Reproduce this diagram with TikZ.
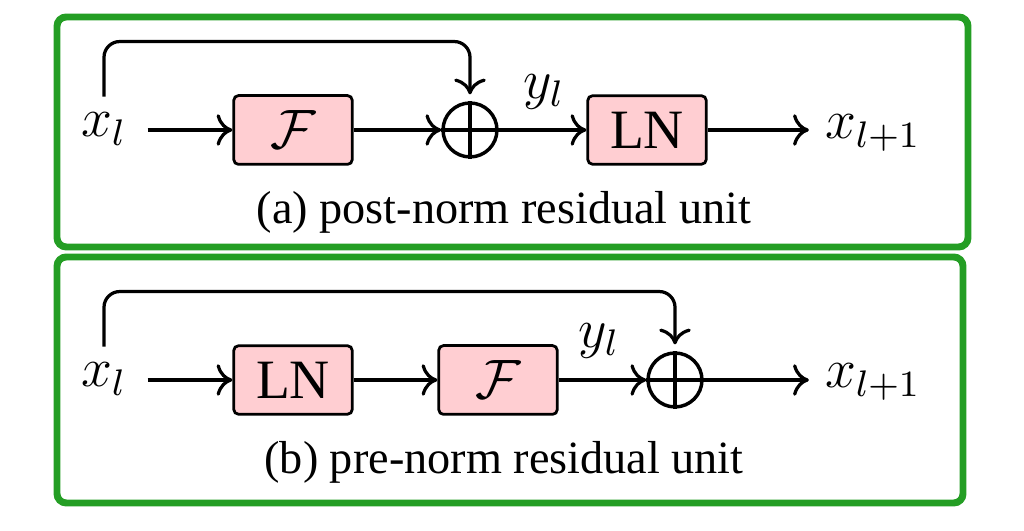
\documentclass[tikz,border=0pt]{standalone}
\usepackage{fontspec}
\setmainfont{Liberation Serif}
\usetikzlibrary{arrows.meta}

\definecolor{framegreen}{RGB}{36,158,36}
\definecolor{blockpink}{RGB}{255,206,210}

\begin{document}
\begin{tikzpicture}[x=0.76cm,y=0.76cm]
\tikzstyle{unitframe}=[draw=framegreen,line width=1.5pt,rounded corners=2pt]
\tikzstyle{layer}=[draw,fill=blockpink,rounded corners=1pt,line width=0.6pt,minimum width=0.9cm,minimum height=0.52cm,font=\large]
\tikzstyle{addop}=[draw,circle,line width=0.75pt,minimum size=0.41cm,inner sep=0pt]
\tikzstyle{flow}=[line width=0.7pt,-{To[length=1.2mm,width=2.4mm]}]
\tikzstyle{skip}=[flow,rounded corners=0.12cm,shorten >=1.5pt]

\useasboundingbox (0,0) rectangle (10.24,5.31);

%% ========== FRAMES ==========
\draw[unitframe] (0.57,5.14) rectangle (9.68,2.84);
\draw[unitframe] (0.57,2.74) rectangle (9.63,0.28);

%% ========== (a) POST-NORM ==========
\node[font=\large] (xa) at (1.04,4.02) {$x_l$};
\node[layer] (fa) at (2.93,4.01) {$\mathcal{F}$};
\node[addop] (ca) at (4.70,4.01) {};
\draw[line width=0.75pt] (ca.north) -- (ca.south) (ca.west) -- (ca.east);
\node[font=\large] (ya) at (5.44,4.39) {$y_l$};
\node[layer] (la) at (6.47,4.01) {LN};
\node[font=\large] (xoa) at (8.73,3.98) {$x_{l+1}$};
\node (capa) at (5.04,3.19) {(a) post-norm residual unit};

\draw[flow, shorten <=1pt] (xa.east |- fa) -- (fa);
\draw[flow] (fa) -- (ca);
\draw[flow] (ca) -- (la);
\draw[flow] (la) -- (xoa.west |- la);
\draw[skip] (xa.north) -- ++(0,0.55) -| (ca.north);

%% ========== (b) PRE-NORM ==========
\node[font=\large] (xb) at (1.04,1.52) {$x_l$};
\node[layer] (lb) at (2.93,1.51) {LN};
\node[layer] (fb) at (4.98,1.51) {$\mathcal{F}$};
\node[font=\large] (yb) at (5.99,1.90) {$y_l$};
\node[addop] (cb) at (6.75,1.51) {};
\draw[line width=0.75pt] (cb.north) -- (cb.south) (cb.west) -- (cb.east);
\node[font=\large] (xob) at (8.73,1.49) {$x_{l+1}$};
\node (capb) at (5.04,0.69) {(b) pre-norm residual unit};

\draw[flow, shorten <=1pt] (xb.east |- lb) -- (lb);
\draw[flow] (lb) -- (fb);
\draw[flow] (fb) -- (cb);
\draw[flow] (cb) -- (xob.west |- cb);
\draw[skip] (xb.north) -- ++(0,0.55) -| (cb.north);

\end{tikzpicture}
\end{document}
